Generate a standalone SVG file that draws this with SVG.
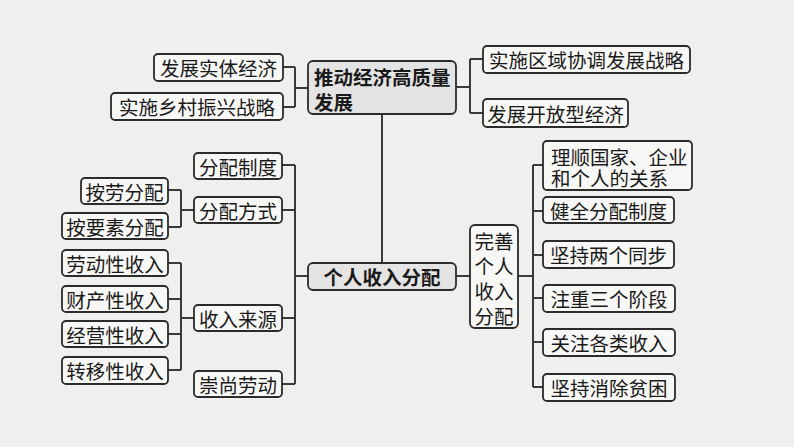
<svg xmlns="http://www.w3.org/2000/svg" width="794" height="447" viewBox="0 0 794 447">
<style>
.bx{fill:#f7f7f5;stroke:#2b2b2b;stroke-width:1.8}
.mx{fill:#e4e4e4;stroke:#2b2b2b;stroke-width:1.8}
text{font-family:"Noto Sans CJK SC","Noto Sans CJK JP",sans-serif;font-size:19.5px;fill:#1a1a1a;dominant-baseline:central}
.c{text-anchor:middle}
.b{font-weight:bold}
.ln{fill:none;stroke:#3a3a3a;stroke-width:2}
</style>
<rect width="794" height="447" fill="#efefed"/>
<g id="connectors" class="ln">
<path d="M283 67H295M283 107H295M295 67V107M295 88H308"/>
<path d="M456 87H470M470 59V113M470 59H483M470 113H483"/>
<path d="M382 114V263"/>
<path d="M282 165H295M282 210H295M282 318H295M282 384H295M295 165V384M295 276H308"/>
<path d="M168 190H181M168 227H181M181 190V227M181 210H194"/>
<path d="M168 263H181M168 299H181M168 334H181M168 370H181M181 263V370M181 318H194"/>
<path d="M456 276H470"/>
<path d="M518 276H533M533 165V387M533 165H543M533 211H543M533 255H543M533 298H543M533 342H543M533 387H543"/>
</g>
<g id="n-top"><rect class="mx" x="308" y="61" width="148" height="53" rx="5"/><text class="b" x="314" y="76">推动经济高质量</text><text class="b" x="314" y="101">发展</text></g>
<g id="n-stst"><rect class="bx" x="154" y="54" width="129" height="27" rx="4"/><text class="c" x="218.5" y="67.5">发展实体经济</text></g>
<g id="n-xczx"><rect class="bx" x="111" y="93" width="172" height="27" rx="4"/><text class="c" x="197" y="106.5">实施乡村振兴战略</text></g>
<g id="n-qyxt"><rect class="bx" x="483" y="46" width="207" height="27" rx="4"/><text class="c" x="586.5" y="59.5">实施区域协调发展战略</text></g>
<g id="n-kfx"><rect class="bx" x="483" y="99" width="145" height="28" rx="4"/><text class="c" x="555.5" y="113">发展开放型经济</text></g>
<g id="n-center"><rect class="mx" x="308" y="263" width="148" height="27" rx="5"/><text class="c b" x="382" y="276.5">个人收入分配</text></g>
<g id="n-wsgr"><rect class="bx" x="470" y="225" width="48" height="103" rx="5"/><text class="c" x="494" y="240">完善</text><text class="c" x="494" y="265">个人</text><text class="c" x="494" y="290.5">收入</text><text class="c" x="494" y="315">分配</text></g>
<g id="n-fpzd"><rect class="bx" x="194" y="153" width="88" height="26" rx="4"/><text class="c" x="238" y="166">分配制度</text></g>
<g id="n-fpfs"><rect class="bx" x="194" y="197" width="88" height="26" rx="4"/><text class="c" x="238" y="210">分配方式</text></g>
<g id="n-aldfp"><rect class="bx" x="81" y="178" width="87" height="26" rx="4"/><text class="c" x="124.5" y="191">按劳分配</text></g>
<g id="n-ayssfp"><rect class="bx" x="62" y="213" width="106" height="26" rx="4"/><text class="c" x="115" y="226">按要素分配</text></g>
<g id="n-ldx"><rect class="bx" x="62" y="250" width="106" height="26" rx="4"/><text class="c" x="115" y="263">劳动性收入</text></g>
<g id="n-ccx"><rect class="bx" x="62" y="286" width="106" height="26" rx="4"/><text class="c" x="115" y="299">财产性收入</text></g>
<g id="n-jyx"><rect class="bx" x="62" y="321" width="106" height="26" rx="4"/><text class="c" x="115" y="334">经营性收入</text></g>
<g id="n-zyx"><rect class="bx" x="62" y="357" width="106" height="27" rx="4"/><text class="c" x="115" y="370.5">转移性收入</text></g>
<g id="n-srly"><rect class="bx" x="194" y="305" width="88" height="26" rx="4"/><text class="c" x="238" y="318">收入来源</text></g>
<g id="n-csld"><rect class="bx" x="194" y="371" width="88" height="26" rx="4"/><text class="c" x="238" y="384">崇尚劳动</text></g>
<g id="n-lsgj"><rect class="bx" x="543" y="141" width="149" height="49" rx="4"/><text x="551" y="156.5">理顺国家、企业</text><text x="551" y="177">和个人的关系</text></g>
<g id="n-jqfp"><rect class="bx" x="543" y="197" width="131" height="26" rx="4"/><text class="c" x="608.5" y="210">健全分配制度</text></g>
<g id="n-jclg"><rect class="bx" x="543" y="241" width="131" height="27" rx="4"/><text class="c" x="608.5" y="254.5">坚持两个同步</text></g>
<g id="n-zzsg"><rect class="bx" x="543" y="285" width="132" height="27" rx="4"/><text class="c" x="609" y="298.5">注重三个阶段</text></g>
<g id="n-gzgl"><rect class="bx" x="543" y="329" width="132" height="27" rx="4"/><text class="c" x="609" y="342.5">关注各类收入</text></g>
<g id="n-jcxc"><rect class="bx" x="543" y="374" width="132" height="27" rx="4"/><text class="c" x="609" y="387.5">坚持消除贫困</text></g>
</svg>
